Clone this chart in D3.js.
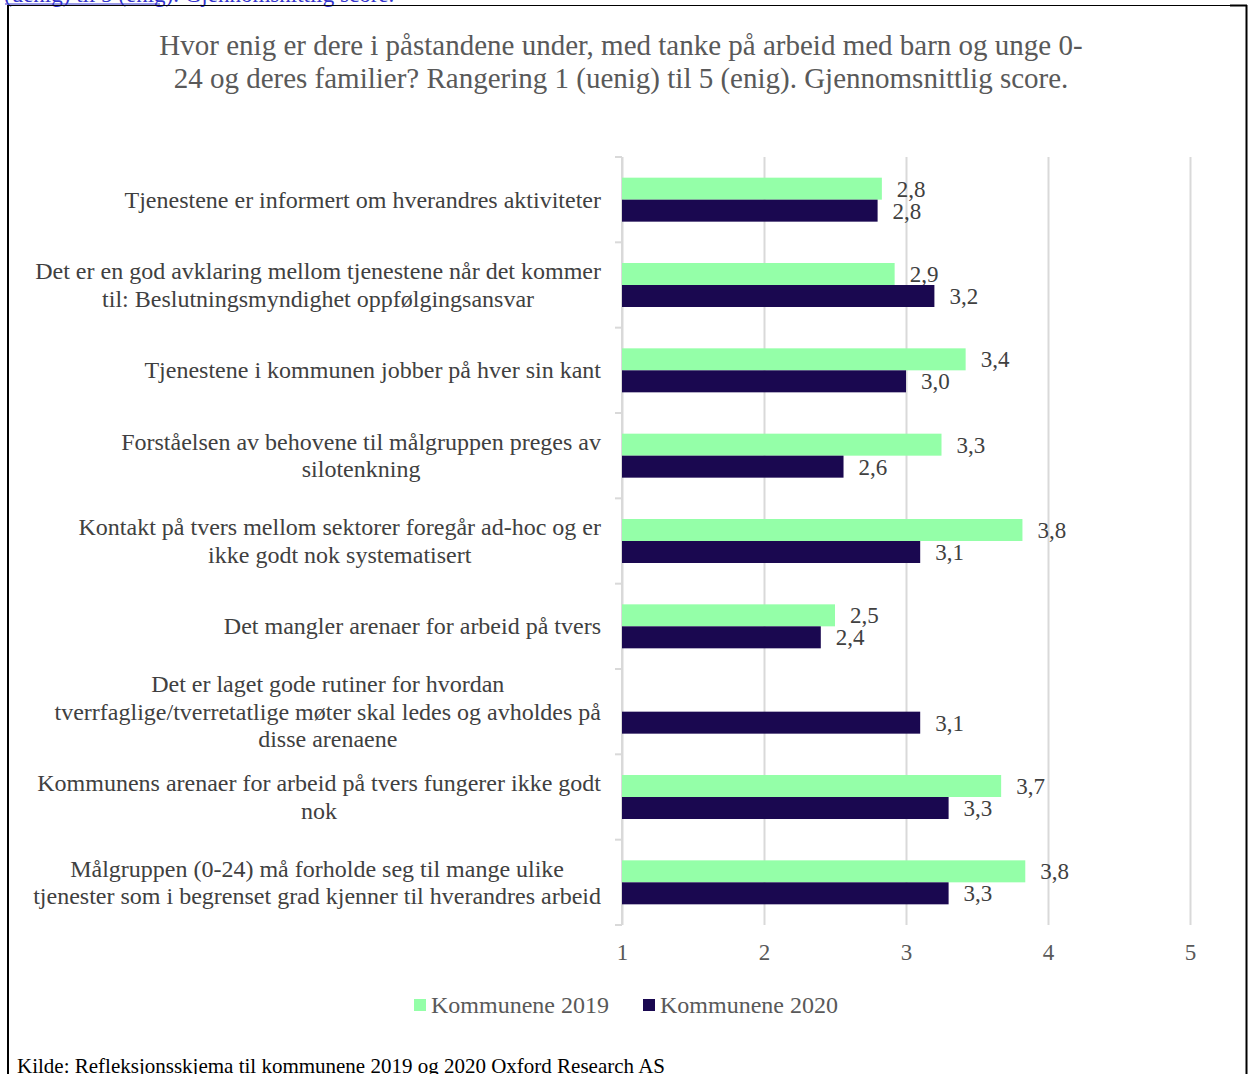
<!DOCTYPE html>
<html>
<head>
<meta charset="utf-8">
<script src="https://cdn.jsdelivr.net/npm/d3@7"></script>
<style>
  body { margin: 0; background: #fff; }
  svg text { font-family: "Liberation Serif", "Times New Roman", serif; }
</style>
</head>
<body>
<script>
// categories (line breaks as in the original chart)
var categories = [
    ["Tjenestene er informert om hverandres aktiviteter"],
    ["Det er en god avklaring mellom tjenestene når det kommer", "til: Beslutningsmyndighet oppfølgingsansvar"],
    ["Tjenestene i kommunen jobber på hver sin kant"],
    ["Forståelsen av behovene til målgruppen preges av", "silotenkning"],
    ["Kontakt på tvers mellom sektorer foregår ad-hoc og er", "ikke godt nok systematisert"],
    ["Det mangler arenaer for arbeid på tvers"],
    ["Det er laget gode rutiner for hvordan", "tverrfaglige/tverretatlige møter skal ledes og avholdes på", "disse arenaene"],
    ["Kommunens arenaer for arbeid på tvers fungerer ikke godt", "nok"],
    ["Målgruppen (0-24) må forholde seg til mange ulike", "tjenester som i begrenset grad kjenner til hverandres arbeid"]
];
var seriesNames = ["Kommunene 2019", "Kommunene 2020"];
var values2019 = [2.83, 2.92, 3.42, 3.25, 3.82, 2.50, null, 3.67, 3.84];
var values2020 = [2.80, 3.20, 3.00, 2.56, 3.10, 2.40, 3.10, 3.30, 3.30];
var xTicks = [1, 2, 3, 4, 5];

var colors = ["#94ffa8", "#1a0850"];

var W = 1251, H = 1074;
var svg = d3.select("body").append("svg")
    .attr("width", W).attr("height", H);

// top link text (cut off in the original)
svg.append("text")
    .attr("x", 4).attr("y", 2)
    .attr("font-size", "23px")
    .attr("fill", "#3333cc")
    .text("(uenig) til 5 (enig). Gjennomsnittlig score.");
svg.append("line").attr("x1", 5).attr("x2", 160).attr("y1", 4).attr("y2", 4)
    .attr("stroke", "#3333cc").attr("stroke-width", 1);

// frame
svg.append("line").attr("x1", 7).attr("x2", 1247).attr("y1", 5.5).attr("y2", 5.5)
    .attr("stroke", "#000").attr("stroke-width", 1);
svg.append("line").attr("x1", 1230).attr("x2", 1247).attr("y1", 5.5).attr("y2", 5.5)
    .attr("stroke", "#000").attr("stroke-width", 2);
svg.append("line").attr("x1", 8).attr("x2", 8).attr("y1", 5).attr("y2", H)
    .attr("stroke", "#000").attr("stroke-width", 2);
svg.append("line").attr("x1", 1246.5).attr("x2", 1246.5).attr("y1", 5).attr("y2", H)
    .attr("stroke", "#000").attr("stroke-width", 2);

// title
var title = ["Hvor enig er dere i påstandene under, med tanke på arbeid med barn og unge 0-",
             "24 og deres familier? Rangering 1 (uenig) til 5 (enig). Gjennomsnittlig score."];
svg.append("text")
    .attr("x", 621).attr("y", 55)
    .attr("text-anchor", "middle")
    .attr("font-size", "29px")
    .attr("fill", "#595959")
    .selectAll("tspan").data(title).enter().append("tspan")
    .attr("x", 621).attr("dy", function(d, i) { return i ? 33 : 0; })
    .text(function(d) { return d; });

// scales
var x = d3.scaleLinear().domain([1, 5]).range([622, 1190]);
var y = d3.scaleBand().domain(d3.range(categories.length)).range([157, 925]);
var ySub = d3.scaleBand().domain([0, 1]).range([0, y.bandwidth()]).paddingOuter(0.94);

// gridlines
svg.append("g")
    .attr("transform", "translate(0,925)")
    .call(d3.axisBottom(x).tickValues(xTicks).tickSize(-768).tickFormat(""))
    .call(function(g) {
        g.select(".domain").remove();
        g.selectAll(".tick line").attr("stroke", "#d9d9d9").attr("stroke-width", 2);
    });

// x tick labels
svg.append("g")
    .attr("transform", "translate(0,925)")
    .call(d3.axisBottom(x).tickValues(xTicks).tickSize(0).tickPadding(19)
        .tickFormat(d3.format("d")))
    .call(function(g) {
        g.select(".domain").remove();
        g.selectAll("text").attr("font-size", "23px").attr("fill", "#595959")
            .attr("font-family", "Liberation Serif, serif");
    });

// category axis line and ticks
var yAxis = svg.append("g").attr("transform", "translate(622,0)");
yAxis.append("line").attr("x1", 0).attr("x2", 0).attr("y1", 157).attr("y2", 925)
    .attr("stroke", "#d9d9d9").attr("stroke-width", 2);
yAxis.selectAll(".ctick")
    .data(d3.range(categories.length + 1))
    .enter().append("line")
    .attr("x1", -7).attr("x2", 0)
    .attr("y1", function(i) { return 157 + i * y.step(); })
    .attr("y2", function(i) { return 157 + i * y.step(); })
    .attr("stroke", "#d9d9d9").attr("stroke-width", 2);

// category labels (centered lines, right-aligned block)
var lineH = 27.5;
categories.forEach(function(lines, i) {
    var g = svg.append("g");
    var cy = y(i) + y.bandwidth() / 2;
    var txt = g.selectAll("text").data(lines).enter().append("text")
        .attr("font-size", "24px")
        .attr("fill", "#404040")
        .attr("text-anchor", "middle")
        .attr("y", function(d, j) { return cy + (j - (lines.length - 1) / 2) * lineH + 8; })
        .text(function(d) { return d; });
    var maxW = 0;
    txt.each(function() { maxW = Math.max(maxW, this.getComputedTextLength()); });
    txt.attr("x", 601 - maxW / 2);
});

// bars
var series = [values2019, values2020];
series.forEach(function(vals, s) {
    var rows = vals.map(function(v, i) { return {i: i, v: v}; })
        .filter(function(d) { return d.v !== null; });
    svg.selectAll(".bar" + s)
        .data(rows)
        .enter().append("rect")
        .attr("class", "bar" + s)
        .attr("x", x(1))
        .attr("y", function(d) { return y(d.i) + ySub(s); })
        .attr("width", function(d) { return x(d.v) - x(1); })
        .attr("height", ySub.bandwidth())
        .attr("fill", colors[s]);
    svg.selectAll(".lab" + s)
        .data(rows)
        .enter().append("text")
        .attr("class", "lab" + s)
        .attr("x", function(d) { return x(d.v) + 15; })
        .attr("y", function(d) { return y(d.i) + ySub(s) + ySub.bandwidth() / 2 + 8; })
        .attr("font-size", "23px")
        .attr("fill", "#404040")
        .text(function(d) { return d3.format(".1f")(d.v).replace(".", ","); });
});

// legend
var legend = svg.append("g");
var legendX = [414, 643];
seriesNames.forEach(function(name, s) {
    legend.append("rect")
        .attr("x", legendX[s]).attr("y", 999)
        .attr("width", 12).attr("height", 12)
        .attr("fill", colors[s]);
    legend.append("text")
        .attr("x", legendX[s] + 17).attr("y", 1013)
        .attr("font-size", "24px")
        .attr("fill", "#595959")
        .text(name);
});

// source (cut off at the bottom edge in the original)
svg.append("text")
    .attr("x", 17).attr("y", 1073)
    .attr("font-size", "21px")
    .attr("fill", "#000")
    .text("Kilde: Refleksjonsskjema til kommunene 2019 og 2020 Oxford Research AS");
</script>
</body>
</html>
